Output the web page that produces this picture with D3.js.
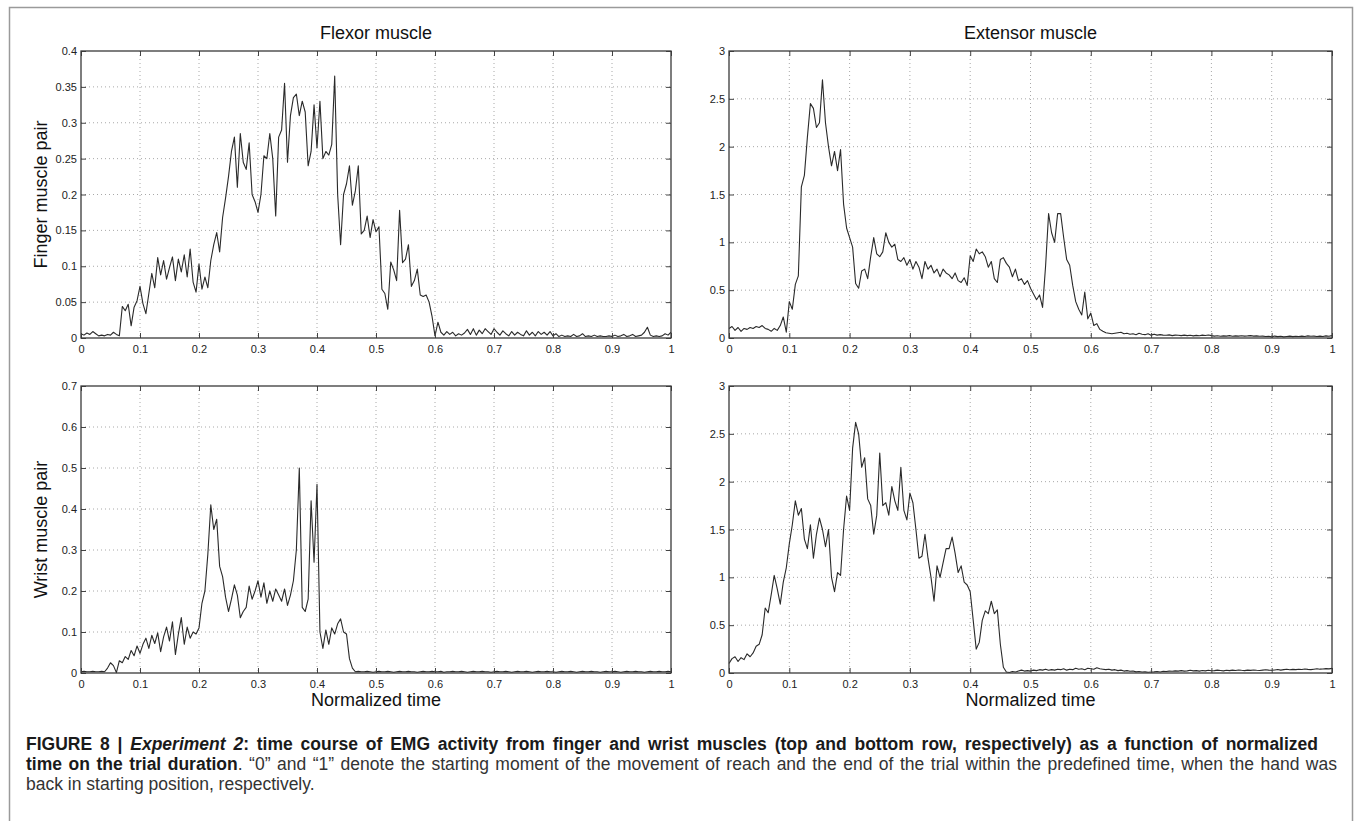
<!DOCTYPE html>
<html>
<head>
<meta charset="utf-8">
<script src="https://cdn.jsdelivr.net/npm/d3@7"></script>
<style>
  body { margin: 0; background: #fff; }
  svg { display: block; font-family: "Liberation Sans", Arial, Helvetica, sans-serif; }
</style>
</head>
<body>
<svg id="chart" width="1357" height="821"></svg>
<script>
// sample spacing of every trace (normalized time)
const timeStep = 0.005;

const xTicks = [0, 0.1, 0.2, 0.3, 0.4, 0.5, 0.6, 0.7, 0.8, 0.9, 1];
const xTickLabels = ['0', '0.1', '0.2', '0.3', '0.4', '0.5', '0.6', '0.7', '0.8', '0.9', '1'];

const fingerFlexorTicks = [0, 0.05, 0.1, 0.15, 0.2, 0.25, 0.3, 0.35, 0.4];
const fingerFlexorLabels = ['0', '0.05', '0.1', '0.15', '0.2', '0.25', '0.3', '0.35', '0.4'];
const wristFlexorTicks = [0, 0.1, 0.2, 0.3, 0.4, 0.5, 0.6, 0.7];
const wristFlexorLabels = ['0', '0.1', '0.2', '0.3', '0.4', '0.5', '0.6', '0.7'];
const extensorTicks = [0, 0.5, 1, 1.5, 2, 2.5, 3];
const extensorLabels = ['0', '0.5', '1', '1.5', '2', '2.5', '3'];

const panelTitles = ['Flexor muscle', 'Extensor muscle'];
const rowLabels = ['Finger muscle pair', 'Wrist muscle pair'];
const xAxisLabel = 'Normalized time';

// finger pair, flexor (top left)
const fingerFlexor = [
  0.006, 0.004, 0.007, 0.005, 0.009, 0.006, 0.003, 0.004, 0.003, 0.005,
  0.004, 0.008, 0.005, 0.003, 0.044, 0.038, 0.047, 0.017, 0.043, 0.052,
  0.072, 0.048, 0.034, 0.062, 0.090, 0.070, 0.112, 0.088, 0.108, 0.082,
  0.098, 0.113, 0.080, 0.110, 0.092, 0.116, 0.085, 0.124, 0.078, 0.064,
  0.103, 0.068, 0.085, 0.070, 0.108, 0.130, 0.147, 0.120, 0.168, 0.195,
  0.225, 0.260, 0.280, 0.210, 0.285, 0.245, 0.235, 0.272, 0.200, 0.190,
  0.175, 0.200, 0.254, 0.250, 0.285, 0.250, 0.170, 0.280, 0.290, 0.355,
  0.245, 0.310, 0.335, 0.340, 0.310, 0.330, 0.315, 0.240, 0.260, 0.325,
  0.265, 0.330, 0.250, 0.260, 0.255, 0.270, 0.365, 0.200, 0.130, 0.200,
  0.215, 0.240, 0.185, 0.205, 0.240, 0.145, 0.150, 0.170, 0.140, 0.165,
  0.148, 0.155, 0.068, 0.062, 0.040, 0.106, 0.095, 0.080, 0.178, 0.105,
  0.110, 0.130, 0.072, 0.080, 0.096, 0.060, 0.058, 0.060, 0.050, 0.030,
  0.003, 0.022, 0.008, 0.004, 0.009, 0.005, 0.008, 0.003, 0.006, 0.004,
  0.007, 0.012, 0.005, 0.013, 0.004, 0.011, 0.006, 0.013, 0.009, 0.005,
  0.013, 0.008, 0.004, 0.010, 0.006, 0.003, 0.009, 0.004, 0.008, 0.005,
  0.003, 0.010, 0.004, 0.008, 0.003, 0.009, 0.005, 0.008, 0.004, 0.009,
  0.003, 0.006, 0.002, 0.004, 0.002, 0.003, 0.002, 0.005, 0.002, 0.003,
  0.006, 0.002, 0.003, 0.002, 0.004, 0.002, 0.003, 0.002, 0.002, 0.003,
  0.002, 0.004, 0.002, 0.003, 0.005, 0.002, 0.003, 0.005, 0.002, 0.003,
  0.004, 0.008, 0.015, 0.004, 0.002, 0.003, 0.002, 0.003, 0.006, 0.004,
  0.008
];

// finger pair, extensor (top right)
const fingerExtensor = [
  0.10, 0.12, 0.08, 0.11, 0.07, 0.10, 0.09, 0.11, 0.10, 0.12,
  0.11, 0.13, 0.10, 0.09, 0.07, 0.10, 0.08, 0.13, 0.22, 0.06,
  0.38, 0.30, 0.56, 0.65, 1.58, 1.70, 2.10, 2.45, 2.40, 2.20,
  2.25, 2.70, 2.25, 2.00, 1.80, 1.95, 1.75, 1.97, 1.40, 1.15,
  1.05, 0.95, 0.57, 0.52, 0.70, 0.72, 0.62, 0.85, 1.05, 0.88,
  0.85, 0.90, 1.10, 1.00, 0.95, 0.98, 0.82, 0.80, 0.84, 0.76,
  0.82, 0.72, 0.80, 0.74, 0.62, 0.80, 0.72, 0.76, 0.68, 0.72,
  0.64, 0.72, 0.68, 0.66, 0.62, 0.68, 0.60, 0.58, 0.63, 0.55,
  0.86, 0.80, 0.93, 0.88, 0.90, 0.85, 0.74, 0.80, 0.62, 0.58,
  0.82, 0.84, 0.78, 0.74, 0.64, 0.72, 0.60, 0.62, 0.56, 0.60,
  0.52, 0.46, 0.40, 0.45, 0.32, 0.75, 1.30, 1.10, 1.00, 1.30,
  1.30, 1.05, 0.82, 0.76, 0.55, 0.38, 0.30, 0.24, 0.48, 0.20,
  0.26, 0.13, 0.15, 0.09, 0.07, 0.055, 0.05, 0.045, 0.05, 0.055,
  0.06, 0.045, 0.05, 0.04, 0.045, 0.035, 0.05, 0.04, 0.035, 0.045,
  0.03, 0.04, 0.03, 0.035, 0.03, 0.028, 0.033, 0.025, 0.03, 0.028,
  0.025, 0.03, 0.025, 0.028, 0.022, 0.027, 0.024, 0.03, 0.026, 0.032,
  0.025, 0.02, 0.024, 0.018, 0.022, 0.02, 0.025, 0.018, 0.022, 0.02,
  0.024, 0.02, 0.022, 0.025, 0.02, 0.022, 0.018, 0.02, 0.015, 0.018,
  0.012, 0.02, 0.014, 0.018, 0.012, 0.016, 0.02, 0.014, 0.018, 0.015,
  0.02, 0.016, 0.022, 0.018, 0.02, 0.016, 0.02, 0.015, 0.022, 0.018,
  0.025
];

// wrist pair, flexor (bottom left)
const wristFlexor = [
  0.003, 0.004, 0.003, 0.003, 0.004, 0.003, 0.003, 0.004, 0.003, 0.012,
  0.025, 0.018, 0.001, 0.030, 0.025, 0.040, 0.033, 0.055, 0.042, 0.066,
  0.048, 0.070, 0.085, 0.060, 0.092, 0.072, 0.098, 0.052, 0.088, 0.112,
  0.078, 0.125, 0.045, 0.095, 0.135, 0.070, 0.112, 0.085, 0.100, 0.095,
  0.110, 0.170, 0.200, 0.290, 0.410, 0.350, 0.375, 0.260, 0.235, 0.185,
  0.150, 0.180, 0.215, 0.190, 0.135, 0.150, 0.160, 0.212, 0.180, 0.200,
  0.225, 0.185, 0.220, 0.170, 0.200, 0.175, 0.205, 0.190, 0.175, 0.205,
  0.165, 0.190, 0.225, 0.300, 0.500, 0.160, 0.150, 0.180, 0.420, 0.270,
  0.460, 0.100, 0.060, 0.105, 0.070, 0.110, 0.095, 0.120, 0.132, 0.100,
  0.095, 0.035, 0.012, 0.003, 0.004, 0.003, 0.003, 0.004, 0.003, 0.002,
  0.003, 0.004, 0.003, 0.003, 0.004, 0.003, 0.002, 0.003, 0.004, 0.003,
  0.003, 0.004, 0.003, 0.003, 0.002, 0.003, 0.004, 0.003, 0.003, 0.004,
  0.003, 0.003, 0.004, 0.002, 0.003, 0.003, 0.004, 0.003, 0.003, 0.004,
  0.003, 0.002, 0.003, 0.004, 0.003, 0.003, 0.004, 0.003, 0.003, 0.002,
  0.003, 0.004, 0.003, 0.003, 0.004, 0.003, 0.002, 0.003, 0.004, 0.003,
  0.003, 0.004, 0.003, 0.002, 0.003, 0.004, 0.003, 0.003, 0.004, 0.003,
  0.003, 0.002, 0.003, 0.004, 0.003, 0.003, 0.004, 0.003, 0.002, 0.003,
  0.004, 0.003, 0.003, 0.004, 0.003, 0.003, 0.002, 0.003, 0.004, 0.003,
  0.003, 0.004, 0.003, 0.002, 0.003, 0.004, 0.003, 0.003, 0.004, 0.003,
  0.003, 0.002, 0.003, 0.004, 0.003, 0.003, 0.004, 0.003, 0.003, 0.004,
  0.003
];

// wrist pair, extensor (bottom right)
const wristExtensor = [
  0.10, 0.15, 0.17, 0.12, 0.16, 0.14, 0.20, 0.17, 0.21, 0.28,
  0.30, 0.40, 0.68, 0.63, 0.82, 1.02, 0.88, 0.72, 0.95, 1.10,
  1.35, 1.55, 1.80, 1.65, 1.72, 1.40, 1.30, 1.55, 1.20, 1.45,
  1.62, 1.50, 1.32, 1.50, 1.00, 0.85, 1.05, 1.02, 1.50, 1.85,
  1.70, 2.35, 2.62, 2.50, 2.15, 2.25, 1.82, 1.75, 1.45, 1.65,
  2.30, 1.75, 1.78, 1.65, 1.95, 1.80, 1.70, 2.15, 1.70, 1.60,
  1.88, 1.78, 1.50, 1.20, 1.22, 1.45, 1.20, 1.00, 0.75, 1.12,
  1.00, 1.15, 1.30, 1.30, 1.42, 1.25, 1.05, 1.12, 0.95, 0.92,
  0.85, 0.55, 0.25, 0.32, 0.55, 0.65, 0.62, 0.75, 0.62, 0.66,
  0.30, 0.06, 0.01, 0.005, 0.015, 0.01, 0.02, 0.03, 0.02, 0.025,
  0.02, 0.03, 0.025, 0.035, 0.03, 0.04, 0.028, 0.035, 0.03, 0.04,
  0.035, 0.045, 0.03, 0.04, 0.035, 0.05, 0.04, 0.045, 0.035, 0.05,
  0.045, 0.04, 0.055, 0.045, 0.04, 0.035, 0.04, 0.03, 0.035, 0.025,
  0.03, 0.02, 0.025, 0.018, 0.02, 0.012, 0.015, 0.01, 0.012, 0.008,
  0.01, 0.012, 0.015, 0.01, 0.018, 0.015, 0.02, 0.018, 0.022, 0.02,
  0.025, 0.02, 0.022, 0.028, 0.022, 0.025, 0.02, 0.026, 0.022, 0.028,
  0.024, 0.025, 0.03, 0.026, 0.022, 0.028, 0.025, 0.03, 0.026, 0.032,
  0.028, 0.025, 0.03, 0.027, 0.032, 0.028, 0.026, 0.03, 0.034, 0.03,
  0.028, 0.032, 0.036, 0.03, 0.035, 0.04, 0.034, 0.038, 0.035, 0.04,
  0.036, 0.042, 0.038, 0.035, 0.04, 0.045, 0.04, 0.042, 0.046, 0.043,
  0.048
];

const svg = d3.select('#chart');

// light grey frame round the whole figure
svg.append('rect')
  .attr('x', 9.5).attr('y', 7.5)
  .attr('width', 1343).attr('height', 830)
  .attr('fill', 'none')
  .attr('stroke', '#9a9a9a')
  .attr('stroke-width', 1.5);

const cols = [{left: 81, right: 671}, {left: 729, right: 1332}];
const rows = [{top: 51, bottom: 338}, {top: 386, bottom: 673}];

const panels = [
  {row: 0, col: 0, values: fingerFlexor, ticks: fingerFlexorTicks, labels: fingerFlexorLabels},
  {row: 0, col: 1, values: fingerExtensor, ticks: extensorTicks, labels: extensorLabels},
  {row: 1, col: 0, values: wristFlexor, ticks: wristFlexorTicks, labels: wristFlexorLabels},
  {row: 1, col: 1, values: wristExtensor, ticks: extensorTicks, labels: extensorLabels}
];

panels.forEach(p => {
  const {left, right} = cols[p.col];
  const {top, bottom} = rows[p.row];
  const yMax = p.ticks[p.ticks.length - 1];

  const x = d3.scaleLinear().domain([0, 1]).range([left, right]);
  const y = d3.scaleLinear().domain([0, yMax]).range([bottom, top]);

  const g = svg.append('g');

  // dotted grid
  g.append('g').selectAll('line')
    .data(xTicks.slice(1, -1))
    .join('line')
      .attr('x1', d => x(d)).attr('x2', d => x(d))
      .attr('y1', top).attr('y2', bottom)
      .attr('stroke', '#a8a8a8')
      .attr('stroke-width', 1)
      .attr('stroke-dasharray', '1,3');

  g.append('g').selectAll('line')
    .data(p.ticks.slice(1, -1))
    .join('line')
      .attr('x1', left).attr('x2', right)
      .attr('y1', d => y(d)).attr('y2', d => y(d))
      .attr('stroke', '#a8a8a8')
      .attr('stroke-width', 1)
      .attr('stroke-dasharray', '1,3');

  // the trace
  const line = d3.line()
    .x((d, i) => x(i * timeStep))
    .y(d => y(d));

  g.append('path')
    .datum(p.values)
    .attr('d', line)
    .attr('fill', 'none')
    .attr('stroke', '#2a2a2a')
    .attr('stroke-width', 1.1)
    .attr('stroke-linejoin', 'round');

  // axes, ticks pointing inward on all four sides
  const styleAxis = sel => {
    sel.select('.domain').remove();
    sel.selectAll('.tick line').attr('stroke', '#444');
    sel.selectAll('.tick text')
      .attr('fill', '#222')
      .style('font-size', '11px')
      .style('font-family', '"Liberation Sans", Arial, sans-serif');
  };

  g.append('g')
    .attr('transform', `translate(0,${bottom})`)
    .call(d3.axisBottom(x).tickValues(xTicks)
      .tickFormat((d, i) => xTickLabels[i]).tickSize(-5).tickPadding(7))
    .call(styleAxis);

  g.append('g')
    .attr('transform', `translate(0,${top})`)
    .call(d3.axisTop(x).tickValues(xTicks).tickFormat('').tickSize(-5))
    .call(styleAxis);

  g.append('g')
    .attr('transform', `translate(${left},0)`)
    .call(d3.axisLeft(y).tickValues(p.ticks)
      .tickFormat((d, i) => p.labels[i]).tickSize(-5).tickPadding(4))
    .call(styleAxis);

  g.append('g')
    .attr('transform', `translate(${right},0)`)
    .call(d3.axisRight(y).tickValues(p.ticks).tickFormat('').tickSize(-5))
    .call(styleAxis);

  g.append('rect')
    .attr('x', left).attr('y', top)
    .attr('width', right - left).attr('height', bottom - top)
    .attr('fill', 'none')
    .attr('stroke', '#3a3a3a')
    .attr('stroke-width', 1.3);

  if (p.row === 0) {
    svg.append('text')
      .attr('x', (left + right) / 2).attr('y', 39)
      .attr('text-anchor', 'middle')
      .attr('fill', '#111')
      .style('font-size', '18px')
      .text(panelTitles[p.col]);
  } else {
    svg.append('text')
      .attr('x', (left + right) / 2).attr('y', 706)
      .attr('text-anchor', 'middle')
      .attr('fill', '#111')
      .style('font-size', '18px')
      .text(xAxisLabel);
  }

  if (p.col === 0) {
    svg.append('text')
      .attr('transform', `translate(47,${(top + bottom) / 2}) rotate(-90)`)
      .attr('text-anchor', 'middle')
      .attr('fill', '#111')
      .style('font-size', '18px')
      .text(rowLabels[p.row]);
  }
});

// caption, first two lines justified like the journal layout
const capLeft = 26;
const caption = svg.append('g')
  .style('font-size', '17.5px')
  .attr('fill', '#1a1a1a');

const line1 = caption.append('text').attr('x', capLeft).attr('y', 750).attr('font-weight', 'bold');
line1.append('tspan').text('FIGURE 8 | ');
line1.append('tspan').attr('font-style', 'italic').text('Experiment 2');
line1.append('tspan').text(': time course of EMG activity from finger and wrist muscles (top and bottom row, respectively) as a function of normalized');

const line2 = caption.append('text').attr('x', capLeft).attr('y', 770);
line2.append('tspan').attr('font-weight', 'bold').text('time on the trial duration');
line2.append('tspan').attr('fill', '#333').text('. \u201C0\u201D and \u201C1\u201D denote the starting moment of the movement of reach and the end of the trial within the predefined time, when the hand was');

caption.append('text').attr('x', capLeft).attr('y', 790).attr('fill', '#333')
  .text('back in starting position, respectively.');

const justify = (sel, rightEdge) => {
  const node = sel.node();
  const natural = node.getComputedTextLength();
  const gaps = node.textContent.split(' ').length - 1;
  sel.attr('word-spacing', Math.max(0, (rightEdge - capLeft - natural) / gaps));
};
justify(line1, 1318);
justify(line2, 1337);
</script>
</body>
</html>
